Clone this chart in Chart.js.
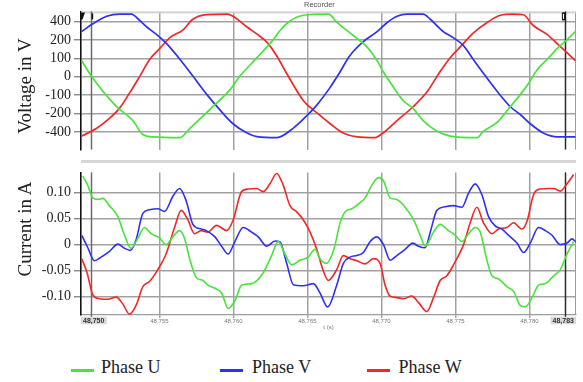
<!DOCTYPE html>
<html>
<head>
<meta charset="utf-8">
<script src="https://cdn.jsdelivr.net/npm/chart.js@4.4.1/dist/chart.umd.min.js"></script>
<style>
  html, body { margin: 0; padding: 0; background: #fff; }
  #wrap { position: relative; width: 583px; height: 382px; overflow: hidden; font-family: 'Liberation Serif', serif; color: #222; }
  canvas { position: absolute; left: 0; }
  #cv1 { top: 0; }
  #cv2 { top: 161px; }
  .ytitle { position: absolute; font-size: 19px; line-height: 1; white-space: nowrap; transform: translate(-50%, -50%) rotate(-90deg); }
  .band { position: absolute; background: #d6d6d6; }
  #rec { position: absolute; left: 304px; top: 0px; font: 7.5px 'Liberation Sans', sans-serif; color: #555; }
  .leg { position: absolute; top: 358px; font-size: 18px; line-height: 18px; white-space: nowrap; }
  .sw { position: absolute; top: 369px; width: 23px; height: 2.5px; }
</style>
</head>
<body>
<div id="wrap">
  <canvas id="cv1" width="583" height="161"></canvas>
  <canvas id="cv2" width="583" height="180"></canvas>
  <div class="band" style="left:81px; top:160px; width:495px; height:3px"></div>
  <div id="rec">Recorder</div>
  <div class="ytitle" style="left:24px; top:86px">Voltage in V</div>
  <div class="ytitle" style="left:24px; top:229px">Current in A</div>
  <div id="legend"></div>
</div>
<script>
// Time axis: milliseconds after 48.750 s
const tStart = 48.750;
const xMin = -0.3, xMax = 33.15;
const timeTicks = [5, 10, 15, 20, 25, 30];
const edgeLabels = ['48,750', '48,783'];
const cursorTimes = [0.38, 32.40];

const seriesNames = ['Phase U', 'Phase V', 'Phase W'];
const seriesColors = ['rgb(72,228,60)', 'rgb(48,48,242)', 'rgb(242,40,40)'];

// Voltage panel (V)
const voltGrid = [-400, -266.67, -133.33, 0, 133.33, 266.67, 400];
const voltTickLabels = ['-400', '-200', '-100', '0', '100', '200', '400'];

const uVoltT = [-0.25,0.43,2.10,3.20,3.88,4.55,6.38,7.06,8.61,9.76,10.44,11.59,12.67,13.18,13.85,14.73,16.42,17.00,17.89,18.56,19.03,19.71,20.11,20.59,21.47,22.14,22.82,23.77,24.65,26.47,26.88,27.83,28.71,29.38,29.86,30.53,31.21,31.89,32.57,33.11];
const uVolt  = [116,0,-216,-316,-418,-435,-440,-373,-216,-95,5,138,265,338,405,445,453,393,316,260,216,116,38,-40,-173,-229,-317,-395,-429,-440,-395,-329,-216,-129,-62,51,127,205,271,327];

const vVoltT = [-0.25,0.49,1.44,2.32,3.13,3.47,4.15,4.82,5.50,6.38,7.26,8.21,9.09,9.97,10.92,11.59,12.94,14.03,14.94,15.62,16.49,17.16,17.84,18.72,19.71,20.39,21.06,21.74,22.82,23.30,24.18,24.85,25.53,26.20,26.88,27.83,28.71,29.38,30.06,30.94,31.89,33.11];
const vVolt  = [327,383,438,453,453,427,360,305,238,127,5,-129,-240,-340,-407,-433,-440,-373,-284,-207,-84,27,149,249,327,393,438,453,453,416,327,283,227,127,27,-107,-217,-273,-340,-407,-435,-435];

const wVoltT = [-0.25,0.76,1.64,2.32,3.00,3.68,4.35,5.03,5.70,6.58,7.26,8.21,9.56,9.97,10.92,11.79,12.27,12.94,13.62,14.73,15.65,16.54,17.41,18.36,19.57,20.11,21.06,22.14,23.10,23.97,24.65,25.33,26.20,27.15,28.03,28.91,29.59,30.26,31.21,31.89,32.57,33.11];
const wVolt  = [-429,-373,-300,-225,-115,5,127,205,283,338,416,449,453,438,360,293,249,149,20,-173,-262,-340,-407,-435,-440,-407,-317,-217,-107,38,138,216,316,393,445,453,449,371,305,238,171,116];

// Current panel (A)
const currGrid = [-0.10, -0.05, 0, 0.05, 0.10];
const currTickLabels = ['-0.10', '-0.05', '0', '0.05', '0.10'];

const uCurT = [-0.18,0.16,0.49,0.83,1.17,1.62,2.19,2.64,3.09,3.54,3.99,4.44,5.01,5.45,5.91,6.36,6.70,7.04,7.48,7.94,8.27,8.75,9.20,9.65,10.10,10.55,11.23,12.02,12.58,13.03,13.48,13.94,14.50,15.06,15.51,15.85,16.31,16.64,16.87,17.21,17.54,18.00,18.56,18.90,19.35,19.80,20.14,20.59,21.04,21.60,22.17,22.62,22.96,23.52,23.97,24.53,24.99,25.44,25.89,26.34,26.68,27.13,27.47,27.92,28.48,28.93,29.38,29.72,30.18,30.62,31.08,31.64,32.09,32.54,32.99];
const uCur  = [0.132,0.114,0.090,0.087,0.089,0.075,0.054,0.018,-0.007,0.012,0.033,0.021,0.013,0.000,0.015,0.027,0.012,-0.027,-0.063,-0.069,-0.078,-0.084,-0.093,-0.123,-0.108,-0.078,-0.075,-0.054,-0.021,0.006,-0.018,-0.039,-0.030,-0.024,-0.009,-0.027,-0.036,-0.021,0.000,0.042,0.063,0.069,0.081,0.090,0.114,0.129,0.123,0.090,0.087,0.072,0.048,0.018,-0.003,0.024,0.039,0.027,0.018,0.006,0.021,0.033,0.024,-0.030,-0.060,-0.066,-0.081,-0.090,-0.117,-0.120,-0.102,-0.078,-0.075,-0.060,-0.048,-0.018,0.006];

const vCurT = [-0.25,0.16,0.61,1.06,1.62,2.19,2.64,3.04,3.42,3.88,4.33,4.89,5.35,5.91,6.36,6.81,7.26,7.82,8.16,8.75,9.20,9.65,10.10,10.66,11.23,11.68,12.25,12.81,13.15,13.60,14.05,14.72,15.40,15.85,16.37,16.98,17.43,17.88,18.34,18.78,19.24,19.69,20.14,20.59,21.04,21.60,22.12,22.50,22.96,23.30,23.75,24.31,24.87,25.44,25.89,26.34,26.79,27.24,27.69,28.15,28.59,29.16,29.61,30.06,30.62,31.08,31.53,32.09,32.54,32.88,33.15];
const vCur  = [0.018,-0.006,-0.031,-0.024,-0.013,0.001,-0.007,-0.011,0.009,0.060,0.067,0.069,0.064,0.093,0.108,0.084,0.039,0.030,0.027,0.015,-0.003,-0.018,0.006,0.033,0.024,0.015,-0.003,0.007,0.005,-0.036,-0.077,-0.079,-0.075,-0.093,-0.120,-0.078,-0.036,-0.024,-0.021,-0.015,0.006,0.015,0.000,-0.030,-0.021,-0.009,0.003,-0.003,-0.006,0.024,0.066,0.073,0.075,0.072,0.099,0.117,0.096,0.054,0.036,0.030,0.018,0.003,-0.015,0.003,0.033,0.027,0.018,0.000,0.003,0.011,0.005];

const wCurT = [-0.25,0.11,0.49,0.95,1.51,2.07,2.52,2.98,3.42,3.88,4.33,4.89,5.45,6.02,6.47,6.92,7.37,7.82,8.27,8.86,9.54,9.99,10.55,11.00,11.57,12.02,12.47,12.92,13.37,13.82,14.28,14.72,15.18,15.63,16.08,16.41,16.98,17.43,17.88,18.34,18.90,19.46,19.91,20.25,20.59,21.04,21.49,22.06,22.50,23.07,23.52,23.97,24.42,24.87,25.55,26.00,26.45,26.90,27.47,27.92,28.48,28.93,29.50,29.84,30.28,30.74,31.30,31.64,32.09,32.54,32.99];
const wCur  = [-0.027,-0.054,-0.096,-0.104,-0.105,-0.101,-0.114,-0.134,-0.117,-0.081,-0.071,-0.048,-0.018,0.033,0.066,0.048,0.021,0.027,0.024,0.037,0.027,0.048,0.102,0.107,0.108,0.102,0.117,0.137,0.114,0.075,0.063,0.048,0.024,-0.009,-0.051,-0.069,-0.048,-0.021,-0.027,-0.031,-0.037,-0.027,-0.036,-0.078,-0.099,-0.102,-0.104,-0.099,-0.111,-0.129,-0.102,-0.069,-0.060,-0.039,0.000,0.042,0.072,0.042,0.021,0.030,0.033,0.042,0.030,0.045,0.096,0.107,0.108,0.108,0.103,0.117,0.135];

const gridColor = '#a2a2a2';
const serif = "'Liberation Serif', 'Times New Roman', serif";
const sans = "'Liberation Sans', Arial, sans-serif";

function series(times, values, idx, width) {
  return {
    label: seriesNames[idx],
    data: times.map((t, i) => ({ x: t, y: values[i] })),
    borderColor: seriesColors[idx],
    borderWidth: width,
    pointRadius: 0,
    fill: false,
    cubicInterpolationMode: 'monotone'
  };
}

function fmtTime(ms) {
  return (tStart + ms / 1000).toFixed(3).replace('.', ',');
}

// Plot frame, cursor lines and cursor flags
const framePlugin = {
  id: 'frame',
  beforeDatasetsDraw(chart, args, opts) {
    const { ctx, chartArea: a, scales: { x } } = chart;
    ctx.save();
    ctx.strokeStyle = '#9c9c9c';
    ctx.lineWidth = 1;
    ctx.beginPath();
    ctx.moveTo(a.right - 0.5, a.top);
    ctx.lineTo(a.right - 0.5, a.bottom);
    ctx.stroke();
    if (opts.topBand) {
      ctx.fillStyle = '#d2d2d2';
      ctx.fillRect(a.left, a.top, a.width, 2);
    }
    cursorTimes.forEach((t, i) => {
      const px = Math.round(x.getPixelForValue(t)) + 0.5;
      ctx.strokeStyle = i === 0 ? '#6a6a6a' : '#2a2a2a';
      ctx.lineWidth = 1.5;
      ctx.beginPath();
      ctx.moveTo(px, a.top);
      ctx.lineTo(px, a.bottom + (opts.extend || 0));
      ctx.stroke();
    });
    if (opts.flags) {
      const l = a.left, p1 = x.getPixelForValue(cursorTimes[0]), p2 = x.getPixelForValue(cursorTimes[1]);
      ctx.fillStyle = '#111';
      ctx.beginPath();
      ctx.moveTo(l, a.top + 1); ctx.lineTo(l + 4, a.top + 1); ctx.lineTo(l + 1.5, a.top + 8); ctx.lineTo(l, a.top + 8);
      ctx.closePath(); ctx.fill();
      ctx.fillRect(p1 + 0.5, a.top + 2, 1.6, 6);
      ctx.fillRect(p2 - 3, a.top + 1, 4, 8);
      ctx.fillStyle = '#fff';
      ctx.fillRect(p2 - 2, a.top + 2.5, 1.2, 5);
    }
    ctx.restore();
  },
  afterDraw(chart, args, opts) {
    if (!opts.edgeBoxes) return;
    const { ctx, chartArea: a } = chart;
    ctx.save();
    ctx.font = 'bold 7px ' + sans;
    ctx.textAlign = 'center';
    ctx.textBaseline = 'middle';
    const y = a.bottom + 1.7, h = 7.6;
    const boxes = [[a.left - 0.3, 26], [a.right - 25.5, 25.5]];
    boxes.forEach(([bx, bw], i) => {
      ctx.fillStyle = '#dadada';
      ctx.fillRect(bx, y, bw, h);
      ctx.fillStyle = '#333';
      ctx.fillText(edgeLabels[i], bx + bw / 2, y + h / 2 + 0.3);
    });
    ctx.restore();
  }
};

function baseOptions(yMin, yMax, grid, labels, padTop, frameOpts, xAxis) {
  return {
    responsive: false,
    animation: false,
    events: [],
    layout: { padding: { top: padTop, right: 7, left: 0, bottom: 0 } },
    plugins: { legend: { display: false }, tooltip: { enabled: false }, frame: frameOpts },
    scales: {
      x: xAxis,
      y: {
        type: 'linear',
        min: yMin,
        max: yMax,
        afterBuildTicks: s => { s.ticks = grid.map(v => ({ value: v })); },
        afterFit: s => { s.width = 81; },
        ticks: {
          callback: (v, i) => labels[i],
          font: { family: serif, size: 14 },
          color: '#222',
          padding: 3
        },
        grid: { color: gridColor, lineWidth: 1.5, tickLength: 7, tickColor: '#777', tickWidth: 1.2 },
        border: { color: '#111', width: 1.6 }
      }
    }
  };
}

// Voltage panel
new Chart(document.getElementById('cv1'), {
  type: 'line',
  data: { datasets: [
    series(uVoltT, uVolt, 0, 1.7),
    series(vVoltT, vVolt, 1, 1.7),
    series(wVoltT, wVolt, 2, 1.7)
  ] },
  options: baseOptions(-527, 473, voltGrid, voltTickLabels, 9, { topBand: true, flags: true }, {
    type: 'linear', min: xMin, max: xMax,
    afterBuildTicks: s => { s.ticks = timeTicks.map(v => ({ value: v })); },
    afterFit: s => { s.height = 1; },
    ticks: { display: false },
    grid: { color: gridColor, lineWidth: 1.5, drawTicks: false },
    border: { display: false }
  }),
  plugins: [framePlugin]
});

// Current panel
new Chart(document.getElementById('cv2'), {
  type: 'line',
  data: { datasets: [
    series(uCurT, uCur, 0, 1.6),
    series(vCurT, vCur, 1, 1.6),
    series(wCurT, wCur, 2, 1.6)
  ] },
  options: baseOptions(-0.1354, 0.139, currGrid, currTickLabels, 2, { extend: 3, edgeBoxes: true }, {
    type: 'linear', min: xMin, max: xMax,
    afterBuildTicks: s => { s.ticks = timeTicks.map(v => ({ value: v })); },
    afterFit: s => { s.height = 26; },
    ticks: {
      callback: v => fmtTime(v),
      font: { family: sans, size: 6 },
      color: '#777',
      padding: 0,
      maxRotation: 0
    },
    grid: { color: gridColor, lineWidth: 1.5, tickLength: 3, tickColor: gridColor },
    border: { color: '#9c9c9c', width: 1.2 },
    title: { display: true, text: 't (s)', font: { family: sans, size: 6 }, color: '#777', padding: { top: 0, bottom: 10 } }
  }),
  plugins: [framePlugin]
});

// Legend
const legend = document.getElementById('legend');
const swatchLeft = [71, 220, 367];
const textLeft = [101, 252, 398.5];
seriesNames.forEach((name, i) => {
  const sw = document.createElement('div');
  sw.className = 'sw';
  sw.style.left = swatchLeft[i] + 'px';
  sw.style.background = seriesColors[i];
  legend.appendChild(sw);
  const tx = document.createElement('div');
  tx.className = 'leg';
  tx.style.left = textLeft[i] + 'px';
  tx.textContent = name;
  legend.appendChild(tx);
});
</script>
</body>
</html>
